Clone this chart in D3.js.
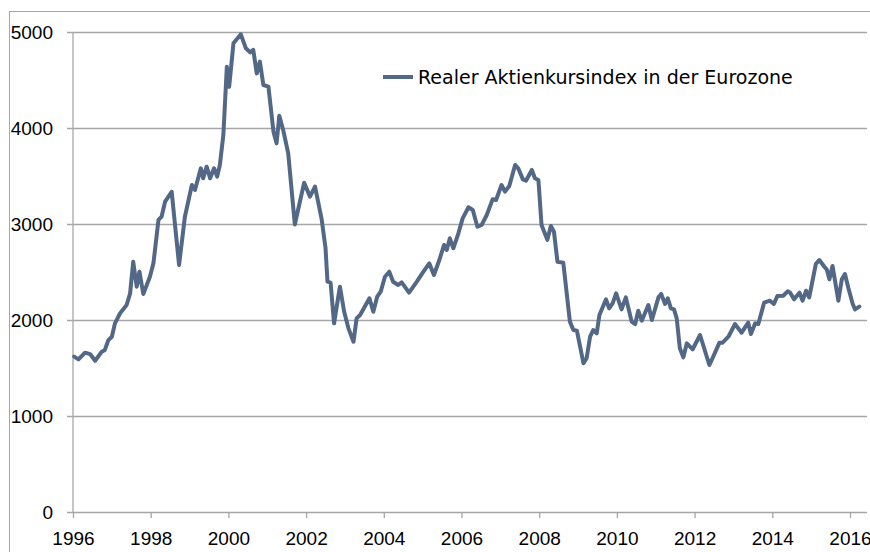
<!DOCTYPE html>
<html>
<head>
<meta charset="utf-8">
<script src="https://cdn.jsdelivr.net/npm/d3@7"></script>
<style>
  html, body { margin: 0; padding: 0; background: #ffffff; }
  svg { display: block; }
</style>
</head>
<body>
<svg id="chart" width="870" height="552"></svg>
<script>
// ---- data ----
const seriesName = "Realer Aktienkursindex in der Eurozone";
const yearTicks = [1996, 1998, 2000, 2002, 2004, 2006, 2008, 2010, 2012, 2014, 2016];
const valueTicks = [0, 1000, 2000, 3000, 4000, 5000];
const dates = [
  1996.03, 1996.14, 1996.31, 1996.44, 1996.57, 1996.74, 1996.82, 1996.91, 1997.00, 1997.08,
  1997.21, 1997.38, 1997.47, 1997.55, 1997.64, 1997.71, 1997.81, 1997.98, 1998.07, 1998.20,
  1998.28, 1998.37, 1998.54, 1998.73, 1998.88, 1999.06, 1999.14, 1999.29, 1999.35, 1999.44,
  1999.53, 1999.63, 1999.71, 1999.78, 1999.87, 1999.96, 2000.02, 2000.13, 2000.32, 2000.45,
  2000.56, 2000.64, 2000.73, 2000.81, 2000.90, 2001.03, 2001.16, 2001.24, 2001.31, 2001.41,
  2001.54, 2001.71, 2001.84, 2001.95, 2002.10, 2002.23, 2002.40, 2002.50, 2002.55, 2002.63,
  2002.72, 2002.87, 2002.98, 2003.09, 2003.22, 2003.30, 2003.39, 2003.63, 2003.73, 2003.83,
  2003.92, 2004.03, 2004.14, 2004.24, 2004.37, 2004.46, 2004.65, 2004.85, 2005.02, 2005.17,
  2005.29, 2005.43, 2005.55, 2005.62, 2005.70, 2005.79, 2005.92, 2006.03, 2006.18, 2006.29,
  2006.41, 2006.52, 2006.65, 2006.80, 2006.89, 2007.03, 2007.12, 2007.23, 2007.38, 2007.46,
  2007.58, 2007.66, 2007.81, 2007.89, 2007.98, 2008.06, 2008.21, 2008.30, 2008.38, 2008.47,
  2008.62, 2008.79, 2008.88, 2008.97, 2009.14, 2009.22, 2009.31, 2009.39, 2009.48, 2009.55,
  2009.72, 2009.80, 2009.89, 2009.98, 2010.12, 2010.23, 2010.38, 2010.47, 2010.55, 2010.64,
  2010.81, 2010.90, 2011.07, 2011.14, 2011.24, 2011.31, 2011.39, 2011.47, 2011.54, 2011.62,
  2011.71, 2011.80, 2011.95, 2012.14, 2012.38, 2012.48, 2012.64, 2012.72, 2012.87, 2013.04,
  2013.21, 2013.38, 2013.45, 2013.56, 2013.64, 2013.79, 2013.94, 2014.04, 2014.13, 2014.28,
  2014.40, 2014.46, 2014.56, 2014.70, 2014.78, 2014.87, 2014.95, 2015.12, 2015.21, 2015.34,
  2015.40, 2015.47, 2015.55, 2015.70, 2015.79, 2015.87, 2015.96, 2016.07, 2016.13, 2016.24
];
const values = [
  1618, 1590, 1660, 1645, 1576, 1670, 1688, 1790, 1826, 1965,
  2069, 2156, 2278, 2607, 2347, 2503, 2271, 2451, 2590, 3042,
  3076, 3232, 3336, 2573, 3076, 3406, 3354, 3580, 3476, 3597,
  3476, 3580, 3493, 3615, 3927, 4639, 4430, 4882, 4976, 4830,
  4788, 4813, 4569, 4691, 4448, 4431, 3962, 3840, 4128, 3979,
  3736, 2995, 3232, 3430, 3285, 3389, 3050, 2750, 2399, 2389,
  1965, 2347, 2086, 1913, 1774, 2017, 2052, 2226, 2086, 2243,
  2295, 2451, 2503, 2399, 2365, 2392, 2285, 2399, 2503, 2590,
  2469, 2625, 2781, 2729, 2851, 2747, 2903, 3059, 3174, 3146,
  2972, 2990, 3094, 3257, 3250, 3406, 3337, 3396, 3615, 3580,
  3465, 3451, 3563, 3476, 3458, 2990, 2835, 2979, 2920, 2607,
  2597, 1983, 1896, 1889, 1549, 1601, 1826, 1896, 1861, 2052,
  2215, 2122, 2174, 2278, 2111, 2236, 1983, 1958, 2097, 1993,
  2156, 2000, 2236, 2271, 2167, 2226, 2122, 2111, 2017, 1705,
  1611, 1757, 1695, 1844, 1531, 1618, 1764, 1764, 1826, 1958,
  1868, 1972, 1854, 1965, 1958, 2181, 2201, 2167, 2250, 2253,
  2299, 2285, 2215, 2285, 2201, 2305, 2236, 2583, 2625, 2555,
  2528, 2424, 2563, 2201, 2424, 2479, 2330, 2167, 2111, 2139
];

// ---- layout ----
const svg = d3.select("#chart");
const plot = { left: 73, right: 867, top: 32, bottom: 512 };
const lineColor = "#536886";
const gridColor = "#a6a6a6";

const x = d3.scaleLinear().domain([1996, 2016]).range([73, 850]);
const y = d3.scaleLinear().domain([0, 5000]).range([plot.bottom, plot.top]);

// outer chart frame
svg.append("rect")
  .attr("x", 9.5).attr("y", 11.5)
  .attr("width", 1000).attr("height", 1000)
  .attr("fill", "none")
  .attr("stroke", "#a6a6a6")
  .attr("stroke-width", 1);

// horizontal gridlines + y axis labels
const yAxis = d3.axisLeft(y)
  .tickValues(valueTicks)
  .tickFormat(d3.format("d"))
  .tickSize(-(plot.right - plot.left))
  .tickPadding(20);
const gy = svg.append("g").attr("transform", `translate(${plot.left},0)`).call(yAxis);
gy.select(".domain").remove();
gy.selectAll(".tick line")
  .attr("x1", -6)
  .attr("stroke", gridColor).attr("stroke-width", 1.3);
gy.selectAll(".tick text")
  .attr("font-family", "'Liberation Sans', Arial, sans-serif")
  .attr("font-size", 19)
  .attr("fill", "#000")
  .attr("x", -20)
  .attr("dy", "0.34em");

// vertical axis line
svg.append("line")
  .attr("x1", plot.left).attr("x2", plot.left)
  .attr("y1", plot.top).attr("y2", plot.bottom)
  .attr("stroke", gridColor).attr("stroke-width", 1.3);

// x axis
const xAxis = d3.axisBottom(x)
  .tickValues(yearTicks)
  .tickFormat(d3.format("d"))
  .tickSize(6)
  .tickPadding(14);
const gx = svg.append("g").attr("transform", `translate(0,${plot.bottom})`).call(xAxis);
gx.select(".domain").remove();
gx.selectAll(".tick line").attr("stroke", gridColor).attr("stroke-width", 1.3);
gx.selectAll(".tick text")
  .attr("font-family", "'Liberation Sans', Arial, sans-serif")
  .attr("font-size", 19)
  .attr("fill", "#000");

// series line
const points = dates.map((d, i) => [d, values[i]]);
svg.append("path")
  .datum(points)
  .attr("fill", "none")
  .attr("stroke", lineColor)
  .attr("stroke-width", 4)
  .attr("stroke-linejoin", "round")
  .attr("stroke-linecap", "round")
  .attr("d", d3.line().x(d => x(d[0])).y(d => y(d[1])));

// legend
const lg = svg.append("g").attr("transform", "translate(383,77)");
lg.append("line")
  .attr("x1", 0).attr("x2", 30).attr("y1", 0).attr("y2", 0)
  .attr("stroke", lineColor).attr("stroke-width", 4);
const lt = lg.append("text")
  .attr("x", 35).attr("y", 0).attr("dy", "0.36em")
  .attr("font-family", "'DejaVu Sans', Verdana, sans-serif")
  .attr("font-size", 16)
  .attr("fill", "#000")
  .text(seriesName);
const w = lt.node().getComputedTextLength();
lt.attr("font-size", 16 * 375 / w);
</script>
</body>
</html>
